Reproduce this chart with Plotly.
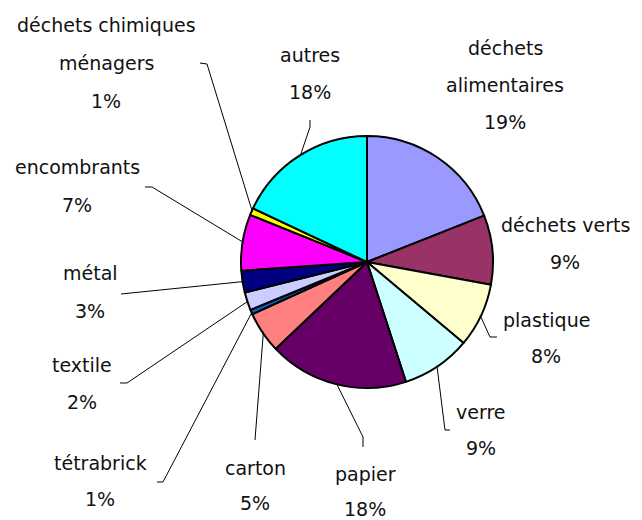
import math
import plotly.graph_objects as go

# ---- data ----
categories = ["déchets alimentaires", "déchets verts", "plastique", "verre", "papier",
              "carton", "tétrabrick", "textile", "métal", "encombrants",
              "déchets chimiques ménagers", "autres"]
values = [19.0, 8.9, 8.2, 8.9, 17.9, 5.3, 0.6, 2.3, 2.8, 7.2, 0.9, 18.0]
colors = ["#9999FF", "#993366", "#FFFFCC", "#CCFFFF", "#660066", "#FF8080",
          "#0066CC", "#CCCCFF", "#000080", "#FF00FF", "#FFFF00", "#00FFFF"]

# ---- layout helpers (pixels in the 642x520 window) ----
OFF = 8                      # page body margin
W, H = 642 - OFF, 520 - OFF  # figure size
CX, CY, R = 367, 262, 126
label_lines = {"déchets alimentaires": ["déchets", "alimentaires"],
               "déchets chimiques ménagers": ["déchets chimiques", "ménagers"]}
# x centre, y of each text line (name lines then percent)
label_pos = {
    "déchets alimentaires": (505, [48, 85, 122]),
    "déchets verts": (565, [225, 262]),
    "plastique": (546, [320, 356]),
    "verre": (481, [412, 448]),
    "papier": (365, [474, 509]),
    "carton": (255, [468, 503]),
    "tétrabrick": (100, [463, 499]),
    "textile": (82, [365, 402]),
    "métal": (90, [273, 311]),
    "encombrants": (77, [167, 205]),
    "déchets chimiques ménagers": (106, [25, 63, 101]),
    "autres": (310, [55, 92]),
}
# leader line starting points (label side), final point on slice edge is computed
leader_start = {
    "plastique": [(497, 337), (490, 337)],
    "verre": [(450, 430), (445, 430)],
    "papier": [(363, 447), (363, 437)],
    "carton": [(255, 440)],
    "tétrabrick": [(157, 482), (163, 482)],
    "textile": [(120, 383), (127, 383)],
    "métal": [(121, 294)],
    "encombrants": [(145, 187), (152, 187)],
    "déchets chimiques ménagers": [(200, 63), (207, 64)],
    "autres": [(310, 120), (310, 127)],
}

def px(x):
    return (x - OFF) / W

def py(y):
    return 1 - (y - OFF) / H

FONT = dict(family="DejaVu Sans", size=19, color="#111111")

fig = go.Figure(go.Pie(
    labels=categories, values=values, sort=False, direction="clockwise", rotation=0,
    marker=dict(colors=colors, line=dict(color="black", width=2)),
    textinfo="none", hoverinfo="label+percent", showlegend=False,
    domain=dict(x=[px(CX - R), px(CX + R)], y=[py(CY + R), py(CY - R)]),
))

total = sum(values)
annotations = []
shapes = []
cum = 0.0
for cat, v in zip(categories, values):
    mid = (cum + v / 2) / total * 2 * math.pi
    cum += v
    pct = f"{round(v / total * 100)}%"
    lines = label_lines.get(cat, [cat]) + [pct]
    xc, ys = label_pos[cat]
    for txt, yy in zip(lines, ys):
        annotations.append(dict(x=px(xc), y=py(yy), xref="paper", yref="paper",
                                text=txt, showarrow=False, xanchor="center",
                                yanchor="middle", font=FONT))
    if cat in leader_start:
        ex = CX + (R - 1) * math.sin(mid)
        ey = CY - (R - 1) * math.cos(mid)
        pts = leader_start[cat] + [(ex, ey)]
        path = "M " + " L ".join(f"{px(a):.5f},{py(b):.5f}" for a, b in pts)
        shapes.append(dict(type="path", path=path, xref="paper", yref="paper",
                           line=dict(color="black", width=1)))

fig.update_layout(width=W, height=H, margin=dict(l=0, r=0, t=0, b=0),
                  paper_bgcolor="white", plot_bgcolor="white",
                  annotations=annotations, shapes=shapes)
fig.write_html("out.html")
